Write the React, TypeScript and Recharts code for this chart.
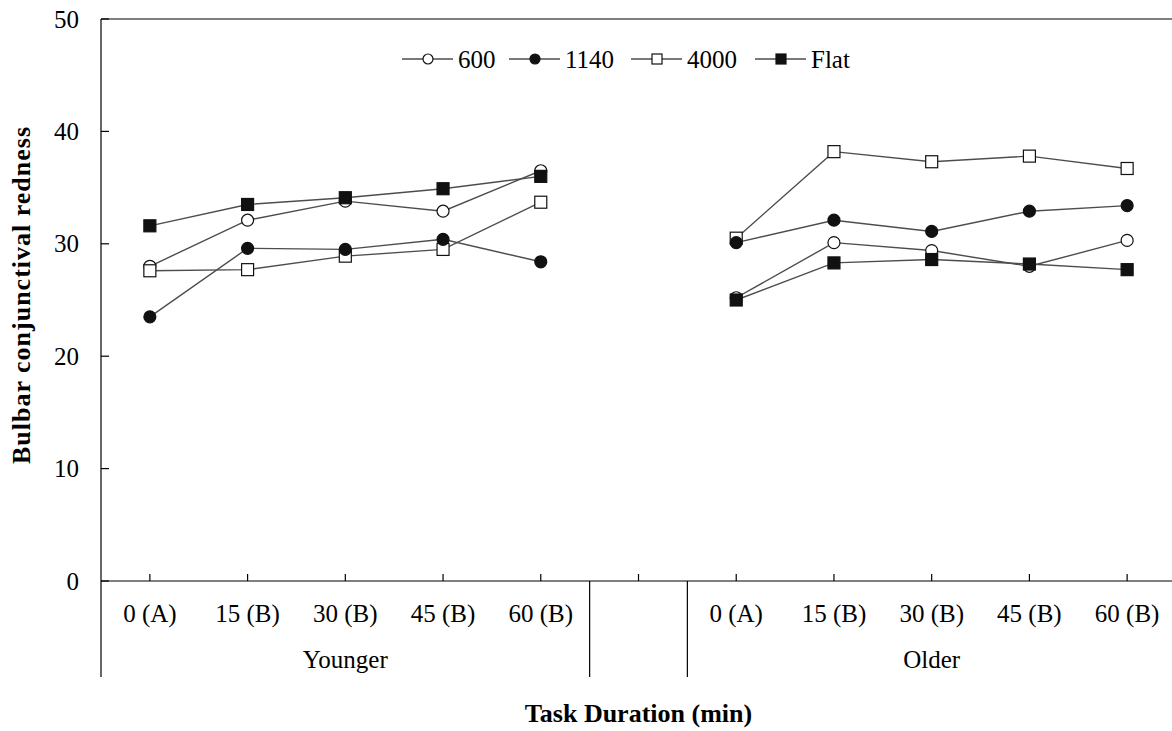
import React from "react";
import { LineChart, Line, XAxis, YAxis, Customized } from "recharts";

// ---------- data ----------
const timeLabels = ["0 (A)", "15 (B)", "30 (B)", "45 (B)", "60 (B)"];
const groupLabels = ["Younger", "Older"];
const yTicks = [0, 10, 20, 30, 40, 50];

const younger600 = [28.0, 32.1, 33.8, 32.9, 36.5];
const younger1140 = [23.5, 29.6, 29.5, 30.4, 28.4];
const younger4000 = [27.6, 27.7, 28.9, 29.5, 33.7];
const youngerFlat = [31.6, 33.5, 34.1, 34.9, 36.0];

const older600 = [25.2, 30.1, 29.4, 28.0, 30.3];
const older1140 = [30.1, 32.1, 31.1, 32.9, 33.4];
const older4000 = [30.5, 38.2, 37.3, 37.8, 36.7];
const olderFlat = [25.0, 28.3, 28.6, 28.2, 27.7];

const seriesNames = ["600", "1140", "4000", "Flat"];

// ---------- layout ----------
const FONT = '"Liberation Serif", "Times New Roman", serif';
const W = 1200;
const H = 731;
const PL = 101;
const PT = 19;
const PR = 1176;
const PB = 581;
const YW = 60;
const XH = 30;
const NSLOT = timeLabels.length * 2 + 1;
const SLOT = (PR - PL) / NSLOT;
const LINE_COLOR = "#4d4d4d";
const MARK_COLOR = "#111";

type Row = { idx: number; label: string; s600: number | null; s1140: number | null; s4000: number | null; sFlat: number | null };

const rows: Row[] = [];
timeLabels.forEach((t, i) =>
  rows.push({ idx: rows.length, label: t, s600: younger600[i], s1140: younger1140[i], s4000: younger4000[i], sFlat: youngerFlat[i] })
);
rows.push({ idx: rows.length, label: "", s600: null, s1140: null, s4000: null, sFlat: null });
timeLabels.forEach((t, i) =>
  rows.push({ idx: rows.length, label: t, s600: older600[i], s1140: older1140[i], s4000: older4000[i], sFlat: olderFlat[i] })
);

const seriesDefs = [
  { key: "s600", name: seriesNames[0], shape: "circle", filled: false },
  { key: "s1140", name: seriesNames[1], shape: "circle", filled: true },
  { key: "s4000", name: seriesNames[2], shape: "square", filled: false },
  { key: "sFlat", name: seriesNames[3], shape: "square", filled: true },
];
const drawOrder = ["s600", "s4000", "s1140", "sFlat"];

const Marker = ({ cx, cy, shape, filled, size }: any) =>
  shape === "circle" ? (
    <circle cx={cx} cy={cy} r={size / 2} fill={filled ? MARK_COLOR : "#fff"} stroke={MARK_COLOR} strokeWidth={1.2} />
  ) : (
    <rect x={cx - size / 2} y={cy - size / 2} width={size} height={size} fill={filled ? MARK_COLOR : "#fff"} stroke={MARK_COLOR} strokeWidth={1.2} />
  );

const makeDot = (name: string, shape: string, filled: boolean) => (props: any) => {
  const { cx, cy, index, value } = props;
  if (cx == null || cy == null || value == null) return <g key={`${name}-${index}`} />;
  return (
    <g key={`${name}-${index}`}>
      <Marker cx={cx} cy={cy} shape={shape} filled={filled} size={12} />
    </g>
  );
};

const YTick = (props: any) => {
  const { x, y, payload } = props;
  return (
    <g>
      <line x1={x} y1={y} x2={x + 8} y2={y} stroke="#000" strokeWidth={1.2} />
      <text x={x - 22} y={y} textAnchor="end" dominantBaseline="central" fontFamily={FONT} fontSize={25} fill="#000">
        {payload.value}
      </text>
    </g>
  );
};

const XTick = (props: any) => {
  const { x, y, payload, index } = props;
  const row = rows[index] || rows[payload.value];
  const groupIdx = Math.floor(timeLabels.length / 2);
  let group: string | null = null;
  if (index === groupIdx) group = groupLabels[0];
  if (index === timeLabels.length + 1 + groupIdx) group = groupLabels[1];
  return (
    <g>
      <line x1={x} y1={y} x2={x} y2={y - 7} stroke="#000" strokeWidth={1.2} />
      <text x={x} y={y + 41} textAnchor="middle" fontFamily={FONT} fontSize={25} fill="#000">
        {row ? row.label : ""}
      </text>
      {group && (
        <text x={x} y={y + 87} textAnchor="middle" fontFamily={FONT} fontSize={25} fill="#000">
          {group}
        </text>
      )}
    </g>
  );
};

const Decorations = () => {
  const sep1 = PL + SLOT * timeLabels.length;
  const sep2 = sep1 + SLOT;
  const legendStarts = [402, 509, 631, 755];
  const legendY = 59;
  return (
    <g>
      <line x1={PL} y1={PT} x2={PR} y2={PT} stroke="#000" strokeWidth={1.2} />
      <line x1={PL} y1={PB} x2={PL} y2={PB + 96} stroke="#000" strokeWidth={1.2} />
      <line x1={sep1} y1={PB} x2={sep1} y2={PB + 96} stroke="#000" strokeWidth={1.2} />
      <line x1={sep2} y1={PB} x2={sep2} y2={PB + 96} stroke="#000" strokeWidth={1.2} />
      <text x={(PL + PR) / 2} y={722} textAnchor="middle" fontFamily={FONT} fontSize={26} fontWeight="bold" fill="#000">
        Task Duration (min)
      </text>
      <text
        x={0}
        y={0}
        transform={`translate(30, ${(PT + PB) / 2 - 5}) rotate(-90)`}
        textAnchor="middle"
        fontFamily={FONT}
        fontSize={26}
        fontWeight="bold"
        letterSpacing={1}
        fill="#000"
      >
        Bulbar conjunctival redness
      </text>
      {seriesDefs.map((s, i) => {
        const x0 = legendStarts[i];
        return (
          <g key={s.key}>
            <line x1={x0} y1={legendY} x2={x0 + 51} y2={legendY} stroke={LINE_COLOR} strokeWidth={1.4} />
            <Marker cx={x0 + 26} cy={legendY} shape={s.shape} filled={s.filled} size={10} />
            <text x={x0 + 56} y={legendY} dominantBaseline="central" fontFamily={FONT} fontSize={25} fill="#000">
              {s.name}
            </text>
          </g>
        );
      })}
    </g>
  );
};

export default function App() {
  return (
    <div style={{ position: "fixed", left: 0, top: 0, width: 1172, height: 731, overflow: "hidden", background: "#fff" }}>
      <LineChart
        width={W}
        height={H}
        data={rows}
        margin={{ top: PT, right: W - PR, bottom: H - PB - XH, left: PL - YW }}
      >
        <XAxis
          dataKey="idx"
          type="category"
          height={XH}
          interval={0}
          padding={{ left: SLOT / 2, right: SLOT / 2 }}
          tickSize={0}
          tickMargin={0}
          tickLine={false}
          axisLine={{ stroke: "#000", strokeWidth: 1.2 }}
          tick={<XTick />}
        />
        <YAxis
          width={YW}
          domain={[0, 50]}
          ticks={yTicks}
          interval={0}
          tickSize={0}
          tickMargin={0}
          tickLine={false}
          axisLine={{ stroke: "#000", strokeWidth: 1.2 }}
          tick={<YTick />}
        />
        {drawOrder.map((k) => {
          const s = seriesDefs.find((d) => d.key === k)!;
          return (
            <Line
              key={s.key}
              dataKey={s.key}
              name={s.name}
              stroke={LINE_COLOR}
              strokeWidth={1.4}
              connectNulls={false}
              isAnimationActive={false}
              dot={makeDot(s.name, s.shape, s.filled)}
              activeDot={false}
            />
          );
        })}
        <Customized component={Decorations} />
      </LineChart>
    </div>
  );
}
